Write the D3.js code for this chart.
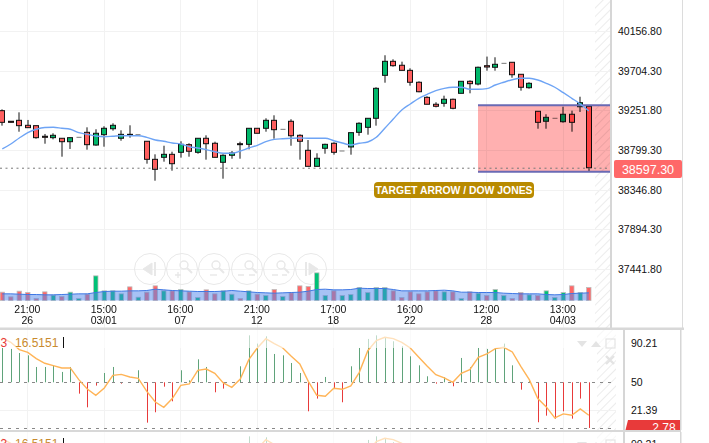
<!DOCTYPE html>
<html><head><meta charset="utf-8">
<script src="https://cdn.jsdelivr.net/npm/d3@7/dist/d3.min.js"></script>
<style>html,body{margin:0;padding:0;background:#fff;overflow:hidden}svg{display:block;font-family:"Liberation Sans",Arial,sans-serif}</style>
</head><body><svg id="c" width="709" height="443"></svg>
<script>
const open=[39248,39127,39138,39081,39077,38956,38940,38933,38894,38944,39001,38856,38974,39042,38933,38978,38974,38899,38693,38716,38750,38773,38860,38773,38933,38876,38659,38739,38871,38864,39047,39047,39138,39035,39127,38967,38796,38613,38819,38876,38788,38834,39001,39058,39161,39651,39811,39766,39708,39572,39400,39321,39332,39378,39446,39583,39552,39761,39743,39788,39800,39663,39510,39241,39127,39161,39122,39207,39293,39298];
const close=[39115,39115,39077,39054,38940,38944,38967,38894,38940,38944,38860,38990,39047,39081,38978,38967,38974,38693,38579,38750,38643,38864,38785,38933,38871,38716,38739,38765,38860,39047,38990,39138,39031,39035,38962,38899,38613,38705,38864,38773,38788,38997,39104,39161,39503,39811,39761,39708,39572,39464,39321,39298,39378,39275,39583,39556,39743,39746,39777,39788,39658,39515,39560,39115,39172,39161,39207,39115,39339,38597];
const high=[39263,39127,39229,39142,39077,38982,38990,38933,38940,38944,39058,39036,39070,39104,39024,39081,38974,38899,38750,38848,38780,38899,38876,38933,38967,38894,38750,38788,38894,39050,39047,39161,39195,39035,39150,38978,38913,38762,38871,38887,38788,38997,39115,39161,39515,39880,39834,39807,39731,39583,39412,39344,39419,39385,39583,39594,39750,39865,39857,39788,39800,39663,39572,39241,39207,39161,39293,39248,39407,39298];
const low=[39077,39115,39008,39054,38928,38871,38921,38723,38811,38944,38803,38848,38837,39020,38905,38940,38974,38643,38449,38666,38563,38712,38723,38757,38689,38716,38472,38700,38700,38807,38990,39008,38928,39035,38848,38689,38613,38613,38757,38746,38788,38746,38962,38974,39077,39567,39750,39708,39533,39458,39321,39286,39293,39264,39446,39446,39537,39704,39704,39788,39624,39476,39499,39042,39042,39161,39111,39008,39233,38552];
const maLine=[38811,38868,38936,38997,39036,39056,39058,39047,39036,38997,38978,38959,38951,38956,38962,38962,38962,38944,38913,38899,38879,38868,38837,38822,38803,38780,38762,38762,38788,38822,38853,38894,38921,38928,38933,38936,38933,38933,38933,38905,38879,38856,38876,38891,38944,39047,39153,39256,39324,39389,39435,39476,39503,39515,39515,39492,39492,39499,39541,39572,39601,39617,39617,39598,39560,39515,39453,39389,39324,39244];
const volume=[25,11,28,24,6,26,16,12,25,6,19,74,29,29,20,41,10,25,44,29,29,33,26,9,32,20,29,19,6,29,19,15,33,12,23,44,42,83,15,29,15,18,39,24,39,39,29,9,26,20,26,29,26,26,6,26,22,15,33,15,6,24,17,15,29,9,24,44,24,39];
const volumeMa=[20,20,19,18,18,17,17,18,19,20,20,24,27,28,28,29,29,30,34,32,30,29,28,27,27,27,28,30,28,26,24,23,22,23,24,25,28,33,34,32,32,33,37,36,36,36,33,29,29,29,29,30,31,29,25,25,24,24,24,22,21,20,20,20,18,17,18,21,22,23];
const oscBars=[85.4,84.4,80.2,77.8,65.8,65.8,67.5,60.7,65.8,38.3,24.2,46.6,59.6,65.8,48.6,50,62.4,8.4,19.1,45.5,30.4,62.4,52,73.7,65.8,39.7,43.5,50,66.5,98.4,89.9,97.4,79.2,77.8,69.9,59.6,20.1,33.2,55.5,44.2,29.4,66.5,85.4,94.7,98.4,95.7,92.3,87.1,76.8,67.5,56.2,48.6,55.2,45.9,75.1,65.5,85.4,84.4,85.1,89.9,67.5,42.4,52,8.8,15.6,12.5,20.1,12.5,33.2,2.9];
const oscLine=[95.7,91.2,83.7,80.9,74.4,69.6,67.2,64.8,64.8,52.7,43.1,36.6,44.2,57.2,58.2,55.5,54.1,40.7,29.7,24.2,33.2,46.9,48.3,62.4,63.7,59.3,49.3,44.8,53.4,73.4,85.4,95,89.9,85.4,76.8,68.9,51,36.6,35.6,43.8,42.8,46.2,60.3,82.6,93,96.4,95,91.2,85.4,75.8,66.5,57.9,54.5,50,59.3,63.1,75.8,79.2,84.7,86.1,81.3,66.5,52.7,33.2,24.6,13.2,17.4,16,22.5,16];
const tickIndex=[3,12,21,30,39,48,57,66];
const tickTime=["21:00","15:00","16:00","21:00","17:00","16:00","12:00","13:00"];
const tickDate=["26","03/01","07","12","18","22","28","04/03"];
const priceTicks=[40156.8,39704.3,39251.8,38799.3,38346.8,37894.3,37441.8];
const oscTicks=[90.21,50,21.39];
const lastPrice=38597.3, lastOsc=2.78, oscLegend="16.5151", targetTop=39311, targetBottom=38552;
const targetLabel="TARGET ARROW / DOW JONES";

const svg=d3.select("#c"), defs=svg.append("defs");
const x=d3.scaleLinear().domain([0,69]).range([2.3,588.8]);
const y=d3.scaleLinear().domain([40156.8,37441.8]).range([31,269]);
const vy=d3.scaleLinear().domain([0,100]).range([300.5,267.2]);
const oy=d3.scaleLinear().domain([50,90.21]).range([382.3,343.3]);
const GREEN="#00b86b",RED="#ff5f5f";

const hatch=defs.append("pattern").attr("id","h").attr("width",6).attr("height",6)
  .attr("patternUnits","userSpaceOnUse").attr("patternTransform","rotate(45)");
hatch.append("line").attr("x1",0).attr("x2",0).attr("y1",0).attr("y2",6).attr("stroke","#ececec").attr("stroke-width",2);
defs.append("clipPath").attr("id","p1").append("rect").attr("width",612).attr("height",328);
defs.append("clipPath").attr("id","p2").append("rect").attr("y",330).attr("width",709).attr("height",100);
defs.append("clipPath").attr("id","p3").append("rect").attr("y",432).attr("width",709).attr("height",11);

/* ---------- main panel ---------- */
const main=svg.append("g").attr("clip-path","url(#p1)");
main.append("rect").attr("x",595).attr("y",0).attr("width",16).attr("height",328).attr("fill","url(#h)");
main.append("g").selectAll("line").data(priceTicks).join("line")
  .attr("x1",0).attr("x2",611).attr("y1",d=>Math.round(y(d))+.5).attr("y2",d=>Math.round(y(d))+.5)
  .attr("stroke","#f2f2f2");
main.append("g").selectAll("line").data(tickIndex).join("line")
  .attr("x1",d=>Math.floor(x(d))+.5).attr("x2",d=>Math.floor(x(d))+.5).attr("y1",0).attr("y2",328)
  .attr("stroke","#f2f2f2");

/* nav buttons */
const navX=[150,182,214,247,279,311];
const nav=main.append("g").attr("fill","none").attr("stroke","#e8e8e8");
nav.selectAll("circle").data(navX).join("circle").attr("cx",d=>d).attr("cy",269).attr("r",15.5).attr("stroke-width",1);
navX.forEach((cx,i)=>{
  const g=nav.append("g").attr("transform",`translate(${cx},269)`);
  if(i===0||i===5){const s=i===0?1:-1;
    g.append("path").attr("d",`M${-7*s},0L${2*s},-6V6Z`).attr("fill","#e8e8e8");
    g.append("path").attr("d",`M${5*s},-7V7`).attr("stroke-width",2);
  } else {
    g.append("circle").attr("cx",2).attr("cy",-4).attr("r",4).attr("stroke-width",1.4);
    g.append("path").attr("d","M5,-1L10,4").attr("stroke-width",2);
    g.append("path").attr("d",i===1?"M-7,6H-1M-4,3V9":i===2?"M-4,6H3":i===3?"M-9,6H-3M2,6H8":"M-7,6H-1M3,6H8").attr("stroke-width",1.4);
  }
});

/* volume */
main.append("g").selectAll("rect").data(volume).join("rect")
  .attr("x",(d,i)=>x(i)-2.2).attr("width",4.4)
  .attr("y",d=>vy(d)).attr("height",d=>vy(0)-vy(d))
  .attr("fill",(d,i)=>close[i]<open[i]?"#ff6868":"#00c176")
  .attr("stroke","#bdbdbd").attr("stroke-width",.8);
const va=d3.area().x((d,i)=>x(i)).y0(vy(0)).y1(d=>vy(d));
main.append("path").datum(volumeMa).attr("d",va).attr("fill","#4f86ec").attr("fill-opacity",.5);
main.append("path").datum(volumeMa).attr("d",d3.line().x((d,i)=>x(i)).y(d=>vy(d))).attr("fill","none").attr("stroke","#3f78e4").attr("stroke-width",1);

/* candles */
const idx=d3.range(open.length);
const cg=main.append("g");
cg.selectAll("line").data(idx.filter(i=>open[i]!==close[i])).join("line")
  .attr("x1",i=>Math.round(x(i))).attr("x2",i=>Math.round(x(i)))
  .attr("y1",i=>y(high[i])).attr("y2",i=>y(low[i])).attr("stroke","#111").attr("stroke-width",1);
cg.selectAll("rect.b").data(idx.filter(i=>open[i]!==close[i])).join("rect").attr("class","b")
  .attr("x",i=>Math.round(x(i))-2.5).attr("width",5)
  .attr("y",i=>y(Math.max(open[i],close[i]))).attr("height",i=>Math.abs(y(open[i])-y(close[i])))
  .attr("fill",i=>close[i]<open[i]?RED:GREEN).attr("stroke","#111").attr("stroke-width",1);
cg.selectAll("line.d").data(idx.filter(i=>open[i]===close[i])).join("line").attr("class","d")
  .attr("x1",i=>Math.round(x(i))-2.5).attr("x2",i=>Math.round(x(i))+2.5)
  .attr("y1",i=>y(open[i])).attr("y2",i=>y(open[i])).attr("stroke","#777").attr("stroke-width",1);

/* target zone */
main.append("rect").attr("x",478).attr("width",134).attr("y",y(targetTop)).attr("height",y(targetBottom)-y(targetTop))
  .attr("fill","#ffb0b0").style("mix-blend-mode","multiply");
[targetTop,targetBottom].forEach(v=>main.append("line").attr("x1",478).attr("x2",612)
  .attr("y1",y(v)).attr("y2",y(v)).attr("stroke","#6a6ab4").attr("stroke-width",2));

/* MA + last price */
main.append("path").datum(maLine).attr("d",d3.line().x((d,i)=>x(i)).y(d=>y(d)).curve(d3.curveMonotoneX))
  .attr("fill","none").attr("stroke","#6ea4f5").attr("stroke-width",1.4);
main.append("line").attr("x1",0).attr("x2",611).attr("y1",y(lastPrice)+.5).attr("y2",y(lastPrice)+.5)
  .attr("stroke","#777").attr("stroke-width",1).attr("stroke-dasharray","2 3.5");

/* target label */
const lb=svg.append("g");
lb.append("rect").attr("x",374).attr("y",182).attr("width",160).attr("height",16).attr("rx",4).attr("fill","#b88a00");
lb.append("text").attr("x",454).attr("y",194).attr("text-anchor","middle").attr("fill","#fff")
  .attr("font-size",10.4).attr("font-weight","bold").text(targetLabel);

/* x axis */
const xa=main.append("g").attr("font-size",10.5).attr("fill","#111").attr("text-anchor","middle");
tickIndex.forEach((t,i)=>{
  xa.append("text").attr("x",x(t)-.5).attr("y",312.5).text(tickTime[i]);
  xa.append("text").attr("x",x(t)-.5).attr("y",323.5).text(tickDate[i]);
});

/* y axis */
const yAxis=svg.append("g").attr("transform","translate(611,0)")
  .call(d3.axisRight(y).tickValues(priceTicks).tickSize(0).tickPadding(7).tickFormat(d3.format(".2f")));
yAxis.select(".domain").remove();
yAxis.selectAll("text").attr("font-size",10.5).attr("font-family","'Liberation Sans',Arial,sans-serif").attr("fill","#111");

svg.append("rect").attr("x",610).attr("y",0).attr("width",2).attr("height",328).attr("fill","#d6d6d6");
svg.append("rect").attr("x",682).attr("y",0).attr("width",1).attr("height",328).attr("fill","#dcdcdc");
svg.append("rect").attr("x",614).attr("y",160).attr("width",68).attr("height",18).attr("rx",2).attr("fill","#ff6868");
svg.append("text").attr("x",648).attr("y",173.5).attr("text-anchor","middle").attr("fill","#fff").attr("font-size",12.5).text(lastPrice.toFixed(2));

/* ---------- oscillator panels ---------- */
function osc(dy,clip){
  const g=svg.append("g").attr("clip-path",`url(#${clip})`).append("g").attr("transform",`translate(0,${dy})`);
  g.append("rect").attr("x",597).attr("y",330).attr("width",19).attr("height",100).attr("fill","url(#h)");
  g.append("g").selectAll("line").data(tickIndex).join("line")
    .attr("x1",d=>Math.floor(x(d))+.5).attr("x2",d=>Math.floor(x(d))+.5).attr("y1",330).attr("y2",430).attr("stroke","#f2f2f2");
  g.append("line").attr("x1",0).attr("x2",616).attr("y1",oy(21.39)+.5).attr("y2",oy(21.39)+.5).attr("stroke","#f2f2f2");
  g.append("g").selectAll("line").data(oscBars).join("line")
    .attr("x1",(d,i)=>Math.round(x(i))+.5).attr("x2",(d,i)=>Math.round(x(i))+.5)
    .attr("y1",oy(50)).attr("y2",d=>oy(d))
    .attr("stroke",d=>d>=50?"#5fa37a":"#e83a3a").attr("stroke-width",1);
  [50,lastOsc].forEach(v=>g.append("line").attr("x1",0).attr("x2",616).attr("y1",Math.round(oy(v))+.5).attr("y2",Math.round(oy(v))+.5)
    .attr("stroke","#888").attr("stroke-dasharray","3 5"));
  g.append("path").datum(oscLine).attr("d",d3.line().x((d,i)=>x(i)).y(d=>oy(d)))
    .attr("fill","none").attr("stroke","#ffb457").attr("stroke-width",1.4);
  g.append("rect").attr("x",0).attr("y",330).attr("width",624).attr("height",18).attr("fill","#fff").attr("fill-opacity",.6);
  g.append("text").attr("x",0.5).attr("y",347).attr("font-size",12).attr("fill","#e83a3a").text("3");
  g.append("text").attr("x",15).attr("y",347).attr("font-size",12).attr("fill","#c98a2e").text(oscLegend);
  g.append("line").attr("x1",63.5).attr("x2",63.5).attr("y1",337).attr("y2",348).attr("stroke","#111");
  /* toolbar glyphs */
  const t=g.append("g").attr("fill","#e4e4e4");
  t.append("path").attr("d","M577,341H587L582,347Z");
  t.append("path").attr("d","M591,347H601L596,341Z");
  t.append("rect").attr("x",606).attr("y",339).attr("width",9).attr("height",9).attr("fill","none").attr("stroke","#e4e4e4").attr("stroke-width",1.2);
  t.append("path").attr("d","M606,356L614,364M614,356L606,364").attr("stroke","#e4e4e4").attr("stroke-width",2.4);
  /* axis */
  const ax=g.append("g").attr("transform","translate(624,0)")
    .call(d3.axisRight(oy).tickValues(oscTicks).tickSize(0).tickPadding(7).tickFormat(d=>d===50?"50":d.toFixed(2)));
  ax.select(".domain").remove();
  ax.selectAll("text").attr("font-size",10.5).attr("font-family","'Liberation Sans',Arial,sans-serif").attr("fill","#111");
  g.append("path").attr("d","M625.5,430L628,420H680V430Z").attr("fill","#e83a3a");
  g.append("text").attr("x",664).attr("y",432).attr("text-anchor","middle").attr("font-size",12).attr("fill","#fff").text(lastOsc.toFixed(2));
  g.append("rect").attr("x",623).attr("y",330).attr("width",2).attr("height",100).attr("fill","#d6d6d6");
  g.append("rect").attr("x",680).attr("y",330).attr("width",1.5).attr("height",100).attr("fill","#d6d6d6");
}
osc(0,"p2");
osc(101,"p3");
svg.append("rect").attr("x",0).attr("y",327.5).attr("width",684).attr("height",2.5).attr("fill","#d8d8d8");
svg.append("rect").attr("x",0).attr("y",430).attr("width",681).attr("height",2).attr("fill","#d8d8d8");
</script></body></html>
